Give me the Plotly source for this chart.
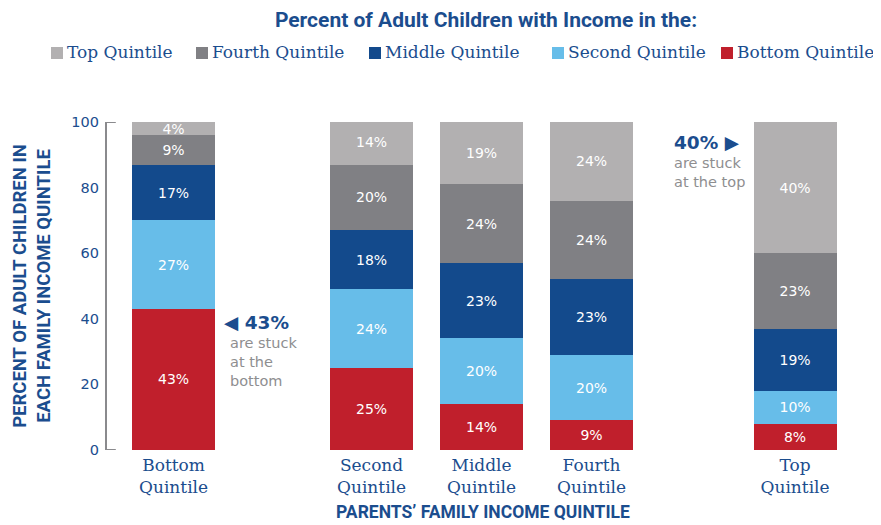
import plotly.graph_objs as go

# ---------- data ----------
parent_quintiles = ["Bottom<br>Quintile", "Second<br>Quintile", "Middle<br>Quintile",
                    "Fourth<br>Quintile", "Top<br>Quintile"]
child_quintiles = ["Bottom Quintile", "Second Quintile", "Middle Quintile",
                   "Fourth Quintile", "Top Quintile"]

bottom_share = [43, 25, 14, 9, 8]
second_share = [27, 24, 20, 20, 10]
middle_share = [17, 18, 23, 23, 19]
fourth_share = [9, 20, 24, 24, 23]
top_share = [4, 14, 19, 24, 40]

y_ticks = [0, 20, 40, 60, 80, 100]

# ---------- layout constants ----------
x_pos = [0, 1.8, 2.8, 3.8, 5.65]
colors = ["#c01f2c", "#67bde9", "#134a8c", "#808084", "#b2b0b1"]
BLUE = "#1b4d8e"
GRAY_TXT = "#8e8e90"
AXIS_GRAY = "#8a8a8d"
SANS = "DejaVu Sans"
SERIF = "DejaVu Serif"
HEAD = "Roboto"

# page body has an 8px margin, so the figure is drawn 8px in from the corner
OFF = 8
W, H = 881 - OFF, 525 - OFF
# plot area in screen pixels: x 106..860, y 122..450
PL, PW, PT, PH = 106 - OFF, 754, 122 - OFF, 328


def px_x(p):
    return (p - OFF - PL) / PW


def px_y(p):
    return (PT + PH - (p - OFF)) / PH


fig = go.Figure()
series = [bottom_share, second_share, middle_share, fourth_share, top_share]
for name, vals, col in zip(child_quintiles, series, colors):
    fig.add_trace(
        go.Bar(
            x=x_pos,
            y=vals,
            name=name,
            width=0.755,
            marker=dict(color=col, line=dict(width=0)),
            texttemplate="%{y}%",
            textposition="inside",
            insidetextanchor="middle",
            textangle=0,
            textfont=dict(family=SANS, size=14, color="white"),
            hoverinfo="skip",
        )
    )

# y-axis bracket
shapes = [
    dict(type="line", xref="paper", yref="y", x0=0, x1=0, y0=0, y1=100,
         line=dict(color=AXIS_GRAY, width=2)),
    dict(type="line", xref="paper", yref="y", x0=0, x1=0.013, y0=100, y1=100,
         line=dict(color=AXIS_GRAY, width=2)),
    dict(type="line", xref="paper", yref="y", x0=0, x1=0.013, y0=0, y1=0,
         line=dict(color=AXIS_GRAY, width=2)),
]

annotations = [
    dict(x=0.44, y=39.0, xref="x", yref="y", text="<b>◀ 43%</b>", showarrow=False,
         xanchor="left", yanchor="middle", font=dict(family=SANS, size=18.5, color=BLUE)),
    dict(x=0.495, y=26.8, xref="x", yref="y", text="are stuck<br>at the<br>bottom",
         showarrow=False, xanchor="left", yanchor="middle", align="left",
         font=dict(family=SANS, size=14.5, color=GRAY_TXT)),
    dict(x=4.53, y=93.9, xref="x", yref="y", text="<b>40% ▶</b>", showarrow=False,
         xanchor="left", yanchor="middle", font=dict(family=SANS, size=18.5, color=BLUE)),
    dict(x=4.53, y=84.6, xref="x", yref="y", text="are stuck<br>at the top",
         showarrow=False, xanchor="left", yanchor="middle", align="left",
         font=dict(family=SANS, size=14.5, color=GRAY_TXT)),
    dict(x=0.5, y=px_y(512), xref="paper", yref="paper",
         text="<b>PARENTS\u2019 FAMILY INCOME QUINTILE</b>",
         showarrow=False, xanchor="center", yanchor="middle",
         font=dict(family=HEAD, size=17.5, color=BLUE)),
]

# hand-drawn legend: coloured square followed by its label
legend_items = list(zip(child_quintiles, colors))[::-1]
legend_px = [51, 196, 369, 552, 721]
for (name, col), left in zip(legend_items, legend_px):
    shapes.append(dict(type="rect", xref="paper", yref="paper",
                       x0=px_x(left), x1=px_x(left + 12), y0=px_y(59), y1=px_y(47),
                       fillcolor=col, line=dict(width=0)))
    annotations.append(dict(x=px_x(left + 14), y=px_y(52), xref="paper", yref="paper",
                            text=name, showarrow=False, xanchor="left", yanchor="middle",
                            font=dict(family=SERIF, size=17, color=BLUE)))

fig.update_layout(
    barmode="stack",
    width=W,
    height=H,
    margin=dict(l=PL, r=W - PL - PW, t=PT, b=H - PT - PH),
    paper_bgcolor="white",
    plot_bgcolor="white",
    title=dict(text="<b>Percent of Adult Children with Income in the:</b>",
               x=(486 - OFF) / W, xanchor="center", y=1 - (20 - OFF) / H, yanchor="middle",
               font=dict(family=HEAD, size=21, color=BLUE)),
    showlegend=False,
    uniformtext=dict(minsize=14, mode="show"),
    shapes=shapes,
    annotations=annotations,
)

fig.update_xaxes(
    range=[-0.614, 6.2405],
    tickvals=x_pos,
    ticktext=parent_quintiles,
    showgrid=False, zeroline=False, showline=False, ticks="",
    ticklabelstandoff=3,
    automargin=False,
    tickfont=dict(family=SERIF, size=17, color=BLUE),
)
fig.update_yaxes(
    range=[0, 100],
    tickvals=y_ticks,
    showgrid=False, zeroline=False, showline=False, ticks="",
    ticklabelstandoff=6,
    automargin=False,
    tickfont=dict(family=SANS, size=14.5, color=BLUE),
    title=dict(text="<b>PERCENT OF ADULT CHILDREN IN<br>EACH FAMILY INCOME QUINTILE</b>",
               standoff=15, font=dict(family=HEAD, size=18.5, color=BLUE)),
)

fig.write_html("out.html")
